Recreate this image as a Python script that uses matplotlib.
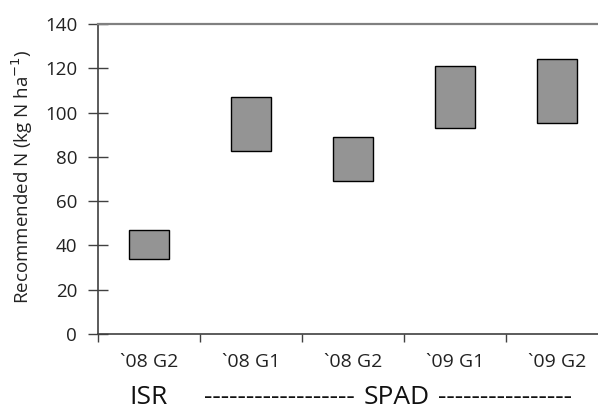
import matplotlib
matplotlib.use("Agg")
import matplotlib.pyplot as plt
import numpy as np

categories = ["`08 G2", "`08 G1", "`08 G2", "`09 G1", "`09 G2"]
low_values = [34, 82.5, 69, 93, 95.5]
high_values = [47, 107, 89, 121, 124]
y_ticks = [0, 20, 40, 60, 80, 100, 120, 140]

plt.rcParams['font.family'] = ['Open Sans', 'DejaVu Sans']

W, H = 598, 411
fig = plt.figure(figsize=(W / 100, H / 100), dpi=100)
left, right, top, bottom = 98, 608, 24, 334
ax = fig.add_axes([left / W, (H - bottom) / H, (right - left) / W, (bottom - top) / H])

x = np.arange(len(categories)) + 0.5
heights = np.array(high_values) - np.array(low_values)
ax.bar(x, heights, bottom=low_values, width=0.4, color="#949494",
       edgecolor="black", linewidth=1.0, zorder=3)

ax.set_xlim(0, 5)
ax.set_ylim(0, 140)
ax.set_yticks(y_ticks)
ax.set_xticks(np.arange(0, 6))
ax.set_xticklabels([])
ax.set_xticks(x, minor=True)
ax.set_xticklabels(categories, minor=True, fontsize=14, color="#222222")
ax.tick_params(axis="x", which="minor", length=0, pad=14)
ax.tick_params(axis="x", which="major", length=6, width=1, color="#404040", direction="out")
ax.tick_params(axis="y", which="major", length=14, width=1, color="#404040", direction="inout",
               labelsize=13.5, pad=8, labelcolor="#222222")

for s in ["left", "bottom"]:
    ax.spines[s].set_color("#404040")
    ax.spines[s].set_linewidth(1.2)
ax.spines["top"].set_color("#808080")
ax.spines["top"].set_linewidth(1.6)
ax.spines["right"].set_visible(False)

fig.text(22 / W, 1 - 177 / H, "Recommended N (kg N ha$^{-1}$)", rotation=90,
         ha="center", va="center", fontsize=13.5, color="#222222")

yb = 1 / H
fig.text(149 / W, yb, "ISR", ha="center", va="bottom", fontsize=19, color="#111111")
fig.text(355 / W, yb, "-" * 18, ha="right", va="bottom", fontsize=19, color="#111111")
fig.text(397 / W, yb, "SPAD", ha="center", va="bottom", fontsize=19, color="#111111")
fig.text(438 / W, yb, "-" * 16, ha="left", va="bottom", fontsize=19, color="#111111")

fig.savefig("out.png", dpi=100)
